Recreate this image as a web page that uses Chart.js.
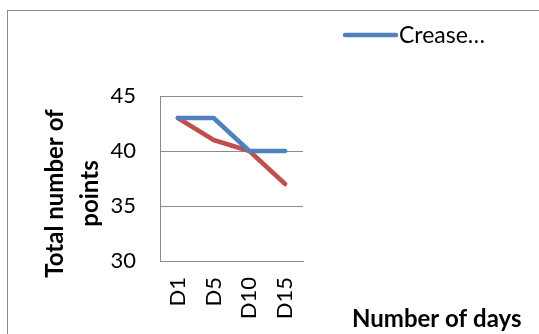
<!DOCTYPE html>
<html>
<head>
<meta charset="utf-8">
<script src="https://cdn.jsdelivr.net/npm/chart.js@4/dist/chart.umd.min.js"></script>
<style>
  html, body { margin: 0; padding: 0; background: #fff; }
  #wrap { width: 539px; height: 334px; position: relative; }
</style>
</head>
<body>
<div id="wrap"><canvas id="c" width="539" height="334"></canvas></div>
<script>
const categories = ['D1', 'D5', 'D10', 'D15'];
const creaseValues = [43, 43, 40, 40];
const secondValues = [43, 41, 40, 37];
const yTicks = [30, 35, 40, 45];
const legendLabel = 'Crease…';
const yTitleLines = ['Total number of', 'points'];
const xTitle = 'Number of days';

const FONT = 'Lato, "Liberation Sans", sans-serif';
const BLUE = '#4F81BD';
const RED = '#C0504D';
const GRID = '#8c8c8c';

// Frame, legend and axis titles drawn around the plot
const decor = {
  id: 'decor',
  beforeDraw(chart) {
    const ctx = chart.ctx;
    ctx.save();
    ctx.fillStyle = '#fff';
    ctx.fillRect(0, 0, chart.width, chart.height);
    ctx.strokeStyle = '#8a8a8a';
    ctx.lineWidth = 1;
    ctx.strokeRect(7.5, 10.5, 700, 500);
    ctx.restore();
  },
  afterDraw(chart) {
    const ctx = chart.ctx;
    const area = chart.chartArea;
    ctx.save();
    // legend
    ctx.strokeStyle = BLUE;
    ctx.lineWidth = 4.5;
    ctx.lineCap = 'round';
    ctx.beginPath();
    ctx.moveTo(345, 35);
    ctx.lineTo(396, 35);
    ctx.stroke();
    ctx.fillStyle = '#000';
    ctx.font = '23px ' + FONT;
    ctx.textBaseline = 'middle';
    ctx.textAlign = 'left';
    ctx.fillText(legendLabel, 399, 36);
    // x title
    ctx.font = 'bold 24px ' + FONT;
    ctx.fillText(xTitle, 352, 319);
    // y title, two lines rotated
    const cy = (area.top + area.bottom) / 2 + 15;
    ctx.translate(0, cy);
    ctx.rotate(-Math.PI / 2);
    ctx.textAlign = 'center';
    ctx.fillText(yTitleLines[0], 0, 55);
    ctx.fillText(yTitleLines[1], 0, 90);
    ctx.restore();
  }
};

new Chart(document.getElementById('c'), {
  type: 'line',
  data: {
    labels: categories,
    datasets: [
      { label: legendLabel, data: creaseValues, borderColor: BLUE, borderWidth: 4.5,
        pointRadius: 0, tension: 0, borderCapStyle: 'round', borderJoinStyle: 'round' },
      { label: 'Series 2', data: secondValues, borderColor: RED, borderWidth: 4.5,
        pointRadius: 0, tension: 0, borderCapStyle: 'round', borderJoinStyle: 'round' }
    ]
  },
  options: {
    responsive: false,
    animation: false,
    events: [],
    layout: { padding: { left: 0, top: 96, right: 236, bottom: 0 } },
    plugins: { legend: { display: false }, tooltip: { enabled: false }, title: { display: false } },
    scales: {
      x: {
        offset: true,
        grid: { display: false, drawTicks: false },
        border: { display: true, color: GRID, width: 1 },
        ticks: { color: '#000', font: { family: FONT, size: 22 }, minRotation: 90, maxRotation: 90, padding: 16, autoSkip: false },
        afterFit(s) { s.height = 73; }
      },
      y: {
        min: 30, max: 45,
        afterBuildTicks(s) { s.ticks = yTicks.map(v => ({ value: v })); },
        grid: { color: GRID, lineWidth: 1, drawTicks: false },
        border: { display: true, color: GRID, width: 1 },
        ticks: { color: '#000', font: { family: FONT, size: 22 }, padding: 24 },
        afterFit(s) { s.width = 160; }
      }
    }
  },
  plugins: [decor]
});
</script>
</body>
</html>
